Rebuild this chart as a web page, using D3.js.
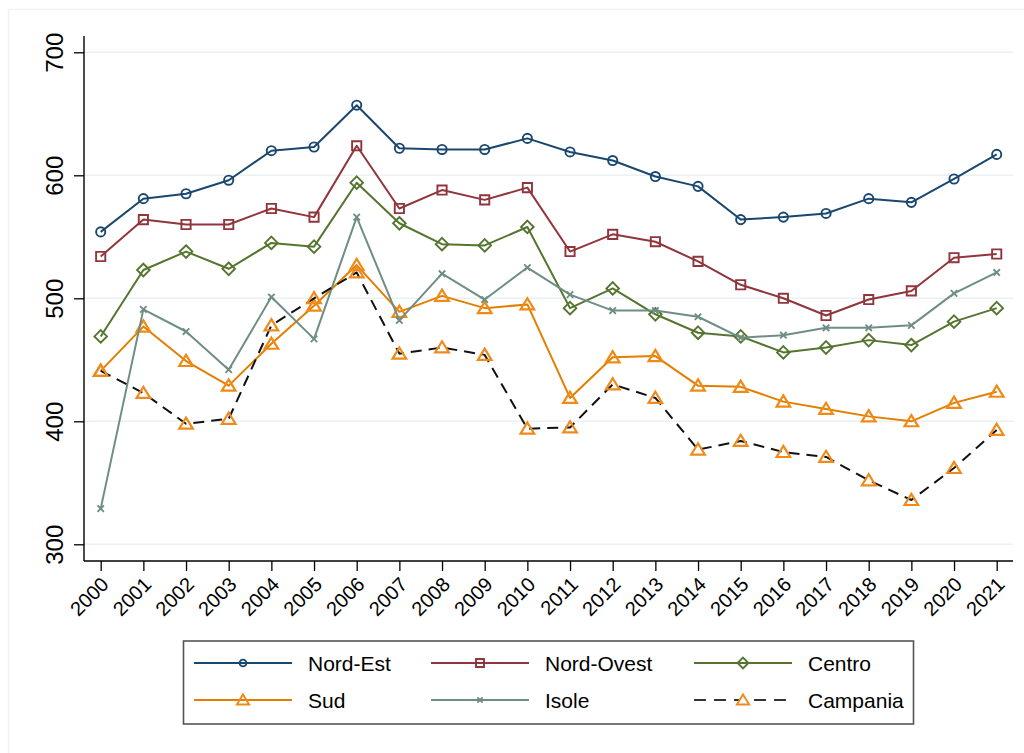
<!DOCTYPE html>
<html>
<head>
<meta charset="utf-8">
<script src="https://cdn.jsdelivr.net/npm/d3@7"></script>
<style>
  html, body { margin: 0; padding: 0; background: #fff; }
  svg { display: block; font-family: "Liberation Sans", Arial, sans-serif; }
</style>
</head>
<body>
<svg id="chart" width="1024" height="753"></svg>
<script>
// Years on the horizontal axis
const years = [2000, 2001, 2002, 2003, 2004, 2005, 2006, 2007, 2008, 2009, 2010,
               2011, 2012, 2013, 2014, 2015, 2016, 2017, 2018, 2019, 2020, 2021];

// Values per area
const nordEst   = [554, 581, 585, 596, 620, 623, 657, 622, 621, 621, 630,
                   619, 612, 599, 591, 564, 566, 569, 581, 578, 597, 617];
const nordOvest = [534, 564, 560, 560, 573, 566, 624, 573, 588, 580, 590,
                   538, 552, 546, 530, 511, 500, 486, 499, 506, 533, 536];
const centro    = [469, 523, 538, 524, 545, 542, 594, 561, 544, 543, 558,
                   492, 508, 487, 472, 469, 456, 460, 466, 462, 481, 492];
const sud       = [441, 477, 449, 429, 463, 494, 527, 489, 502, 492, 495,
                   419, 452, 453, 429, 428, 416, 410, 404, 400, 415, 424];
const isole     = [329, 491, 473, 442, 501, 467, 566, 482, 520, 499, 525,
                   503, 490, 490, 485, 468, 470, 476, 476, 478, 504, 521];
const campania  = [441, 423, 398, 402, 478, 500, 521, 455, 460, 454, 394,
                   395, 430, 419, 377, 384, 375, 371, 352, 336, 362, 393];

// Axis ticks
const yTicks = [300, 400, 500, 600, 700];

const seriesNames = ["Nord-Est", "Nord-Ovest", "Centro", "Sud", "Isole", "Campania"];

const series = [
  { name: seriesNames[0], values: nordEst,   color: "#1a476f", marker: "circle",   markerColor: "#1a476f", dash: null },
  { name: seriesNames[1], values: nordOvest, color: "#90353b", marker: "square",   markerColor: "#90353b", dash: null },
  { name: seriesNames[2], values: centro,    color: "#55752f", marker: "diamond",  markerColor: "#55752f", dash: null },
  { name: seriesNames[3], values: sud,       color: "#e37e00", marker: "triangle", markerColor: "#ef8a17", dash: null },
  { name: seriesNames[4], values: isole,     color: "#6e8e84", marker: "x",        markerColor: "#6e8e84", dash: null },
  { name: seriesNames[5], values: campania,  color: "#111111", marker: "triangle", markerColor: "#f08a1c", dash: "11,7" }
];

const svg = d3.select("#chart");

// faint outer frame of the graph region
svg.append("rect")
  .attr("x", 8.5).attr("y", 9.5)
  .attr("width", 1100).attr("height", 800)
  .attr("fill", "#fff")
  .attr("stroke", "#eef2f3")
  .attr("stroke-width", 1.5);

const plot = { left: 84, right: 1013, top: 36, bottom: 561 };

const x = d3.scaleLinear()
  .domain([2000, 2021])
  .range([100.7, 996.7]);

const y = d3.scaleLinear()
  .domain([300, 700])
  .range([544.3, 52.3]);

// horizontal grid lines
svg.append("g")
  .selectAll("line")
  .data(yTicks)
  .join("line")
  .attr("x1", plot.left).attr("x2", plot.right)
  .attr("y1", d => y(d)).attr("y2", d => y(d))
  .attr("stroke", "#e9f1f3")
  .attr("stroke-width", 1.6);

// y axis
const yAxis = svg.append("g")
  .attr("transform", `translate(${plot.left},0)`)
  .call(d3.axisLeft(y).tickValues(yTicks).tickSize(10).tickFormat(d3.format("d")));
yAxis.select(".domain")
  .attr("d", `M0,${plot.top}V${plot.bottom}`)
  .attr("stroke", "#000").attr("stroke-width", 1.4);
yAxis.selectAll(".tick line").attr("stroke", "#000").attr("stroke-width", 1.3);
yAxis.selectAll(".tick text")
  .attr("x", null).attr("dy", null)
  .attr("transform", "translate(-21,0) rotate(-90)")
  .attr("text-anchor", "middle")
  .attr("font-size", 24)
  .attr("font-family", "'Liberation Sans', Arial, sans-serif")
  .attr("fill", "#000");

// x axis
const xAxis = svg.append("g")
  .attr("transform", `translate(0,${plot.bottom})`)
  .call(d3.axisBottom(x).tickValues(years).tickSize(10).tickFormat(d3.format("d")));
xAxis.select(".domain")
  .attr("d", `M${plot.left},0H${plot.right}`)
  .attr("stroke", "#000").attr("stroke-width", 1.4);
xAxis.selectAll(".tick line").attr("stroke", "#000").attr("stroke-width", 1.3);
xAxis.selectAll(".tick text")
  .attr("y", null).attr("dy", null)
  .attr("transform", "translate(5,21) rotate(-45)")
  .attr("text-anchor", "end")
  .attr("dominant-baseline", "middle")
  .attr("font-size", 20)
  .attr("font-family", "'Liberation Sans', Arial, sans-serif")
  .attr("fill", "#000");

// marker shapes, s = half-size in pixels
function markerPath(type, s) {
  switch (type) {
    case "circle":
      return `M${s},0A${s},${s} 0 1,1 ${-s},0A${s},${s} 0 1,1 ${s},0Z`;
    case "square":
      return `M${-s},${-s}H${s}V${s}H${-s}Z`;
    case "diamond":
      return `M0,${-s}L${s},0L0,${s}L${-s},0Z`;
    case "triangle":
      return `M0,${-s}L${s * 1.1},${s * 0.8}L${-s * 1.1},${s * 0.8}Z`;
    case "x":
      return `M${-s},${-s}L${s},${s}M${-s},${s}L${s},${-s}`;
  }
}
const plotMarkerSize = { circle: 4.6, square: 4.6, diamond: 6.3, triangle: 6.2, x: 3.2 };
const legendMarkerSize = { circle: 3.4, square: 4, diamond: 5.4, triangle: 5.6, x: 2.6 };

const line = d3.line()
  .x((d, i) => x(years[i]))
  .y(d => y(d));

// draw series in order
series.forEach(s => {
  const g = svg.append("g");
  g.append("path")
    .attr("d", line(s.values))
    .attr("fill", "none")
    .attr("stroke", s.color)
    .attr("stroke-width", 2)
    .attr("stroke-linejoin", "round")
    .attr("stroke-dasharray", s.dash);
  g.selectAll("path.m")
    .data(s.values)
    .join("path")
    .attr("class", "m")
    .attr("transform", (d, i) => `translate(${x(years[i])},${y(d)})`)
    .attr("d", markerPath(s.marker, plotMarkerSize[s.marker]))
    .attr("fill", "none")
    .attr("stroke", s.markerColor)
    .attr("stroke-width", s.marker === "triangle" ? 2.2 : 1.9)
    .attr("stroke-linejoin", "miter");
});

// legend
const legend = svg.append("g");
legend.append("rect")
  .attr("x", 183.5).attr("y", 641)
  .attr("width", 730).attr("height", 83)
  .attr("fill", "#fff")
  .attr("stroke", "#555")
  .attr("stroke-width", 1.6);

const colX = [194, 431, 694];
const rowY = [663, 700];

series.forEach((s, i) => {
  const cx = colX[i % 3], cy = rowY[Math.floor(i / 3)];
  const item = legend.append("g").attr("transform", `translate(${cx},${cy})`);
  item.append("line")
    .attr("x1", 0).attr("x2", 98)
    .attr("y1", 0).attr("y2", 0)
    .attr("stroke", s.dash ? "#333" : s.color)
    .attr("stroke-width", 2)
    .attr("stroke-dasharray", s.dash ? "12,8" : null);
  item.append("path")
    .attr("transform", "translate(49,0)")
    .attr("d", markerPath(s.marker, legendMarkerSize[s.marker]))
    .attr("fill", s.dash ? "#fff" : "none")
    .attr("stroke", s.markerColor)
    .attr("stroke-width", 1.9);
  item.append("text")
    .attr("x", 114).attr("y", 0)
    .attr("dy", "0.36em")
    .attr("font-size", 21)
    .attr("fill", "#000")
    .text(s.name);
});
</script>
</body>
</html>
